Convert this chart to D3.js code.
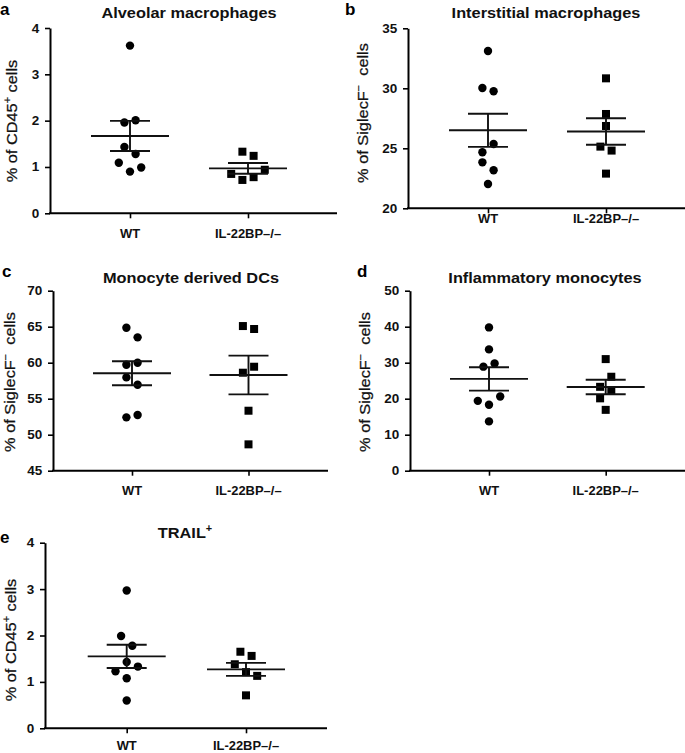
<!DOCTYPE html>
<html>
<head>
<meta charset="utf-8">
<script src="https://cdn.jsdelivr.net/npm/d3@7"></script>
<style>
  html, body { margin: 0; padding: 0; background: #fff; }
  svg { display: block; }
</style>
</head>
<body>
<svg id="chart" width="685" height="753"></svg>
<script>
// ---------------- DATA ----------------
const groups = ["WT", "IL-22BP\u2013/\u2013"];

// a: Alveolar macrophages (% of CD45+ cells)
const aWT = [3.62, 1.96, 2.01, 1.43, 1.28, 1.09, 0.90, 0.99];
const aKO = [1.33, 1.24, 0.85, 0.72, 0.78, 0.94];
const aMean = [1.67, 0.97];
const aSEM = [0.325, 0.115];
const aTicks = [0, 1, 2, 3, 4];

// b: Interstitial macrophages (% of SiglecF- cells)
const bWT = [33.11, 30.03, 29.75, 24.67, 25.36, 23.83, 23.17, 22.03];
const bKO = [30.83, 27.86, 26.86, 25.14, 24.81, 22.89];
const bMean = [26.5, 26.4];
const bSEM = [1.38, 1.11];
const bTicks = [20, 25, 30, 35];

// c: Monocyte derived DCs (% of SiglecF- cells)
const cWT = [64.86, 63.52, 59.72, 60.0, 57.96, 56.94, 52.41, 52.73];
const cKO = [65.09, 64.68, 58.61, 59.44, 53.33, 48.66];
const cMean = [58.53, 58.29];
const cSEM = [1.67, 2.69];
const cTicks = [45, 50, 55, 60, 65, 70];

// d: Inflammatory monocytes (% of SiglecF- cells)
const dWT = [39.8, 33.7, 28.9, 29.8, 19.4, 18.3, 20.6, 13.7];
const dKO = [31.0, 23.3, 26.1, 20.1, 22.2, 16.9];
const dMean = [25.5, 23.25];
const dSEM = [3.25, 2.0];
const dTicks = [0, 10, 20, 30, 40, 50];

// e: TRAIL+ (% of CD45+ cells)
const eWT = [2.97, 1.99, 1.78, 1.23, 1.43, 1.33, 1.08, 0.60];
const eKO = [1.65, 1.56, 1.38, 1.21, 1.13, 0.71];
const eMean = [1.55, 1.27];
const eSEM = [0.25, 0.14];
const eTicks = [0, 1, 2, 3, 4];

const titles = ["Alveolar macrophages", "Interstitial macrophages", "Monocyte derived DCs", "Inflammatory monocytes", "TRAIL"];
const letters = ["a", "b", "c", "d", "e"];

// ---------------- LAYOUT ----------------
const FONT = "'Liberation Sans', Arial, Helvetica, sans-serif";
const layout = [
  { wt: aWT, ko: aKO, mean: aMean, sem: aSEM, ticks: aTicks, ylab: "cd45",
    left: 50, right: 337, top: 28, bottom: 213.3, xWT: 130, xKO: 248,
    titleX: 189, titleY: 18, letterX: 0, letterY: 14.5, xLabY: 238, yLabX: 17, yLabY: 121 },
  { wt: bWT, ko: bKO, mean: bMean, sem: bSEM, ticks: bTicks, ylab: "siglec",
    left: 408, right: 685, top: 28.3, bottom: 208.3, xWT: 488, xKO: 606,
    titleX: 546, titleY: 18, letterX: 345, letterY: 14.5, xLabY: 223, yLabX: 368, yLabY: 113 },
  { wt: cWT, ko: cKO, mean: cMean, sem: cSEM, ticks: cTicks, ylab: "siglec",
    left: 53, right: 328, top: 290.7, bottom: 470.7, xWT: 132, xKO: 248.5,
    titleX: 191, titleY: 283, letterX: 2, letterY: 277, xLabY: 495, yLabX: 15, yLabY: 382 },
  { wt: dWT, ko: dKO, mean: dMean, sem: dSEM, ticks: dTicks, ylab: "siglec",
    left: 410, right: 685, top: 290.7, bottom: 470.7, xWT: 489, xKO: 605.7,
    titleX: 545, titleY: 283, letterX: 357, letterY: 277, xLabY: 495, yLabX: 370, yLabY: 382 },
  { wt: eWT, ko: eKO, mean: eMean, sem: eSEM, ticks: eTicks, ylab: "cd45",
    left: 45, right: 327, top: 542.7, bottom: 728.3, xWT: 126.7, xKO: 246,
    titleX: 185, titleY: 538, letterX: 0, letterY: 543, xLabY: 749.5, yLabX: 16, yLabY: 640, titleSup: true }
];

const svg = d3.select("#chart");
const ROW_GAP = 11.8, SLOT = 11.2, R = 4.2, SQ = 8;
const MEAN_HW = 39, CAP_HW = 20, LW = 1.9;

function swarm(values, y) {
  const order = values.map((v, i) => i).sort((p, q) => values[q] - values[p]);
  const rows = [];
  order.forEach(i => {
    const row = rows[rows.length - 1];
    if (row && y(values[i]) - y(values[row[0]]) < ROW_GAP) row.push(i);
    else rows.push([i]);
  });
  const off = new Array(values.length).fill(0);
  rows.forEach(row => {
    const r = row.slice().sort((p, q) => p - q);
    r.forEach((i, k) => { off[i] = (k - (r.length - 1) / 2) * SLOT; });
  });
  return off;
}

layout.forEach((p, pi) => {
  const g = svg.append("g");
  const y = d3.scaleLinear().domain(d3.extent(p.ticks)).range([p.bottom, p.top]);
  const x = d3.scalePoint().domain(groups).range([p.xWT, p.xKO]);

  // y axis
  const ya = g.append("g").attr("transform", `translate(${p.left},0)`)
    .call(d3.axisLeft(y).tickValues(p.ticks).tickSize(5).tickSizeOuter(0).tickPadding(5).tickFormat(d3.format("d")));
  ya.select(".domain").attr("stroke", "#000").attr("stroke-width", 2);
  ya.selectAll(".tick line").attr("stroke", "#000").attr("stroke-width", 1.6);
  ya.selectAll(".tick text")
    .attr("font-family", FONT).attr("font-weight", "bold").attr("font-size", 12.5)
    .attr("fill", "#111").attr("transform", "scale(1.08,1)");

  // x axis
  g.append("line").attr("x1", p.left - 1).attr("x2", p.right)
    .attr("y1", p.bottom).attr("y2", p.bottom).attr("stroke", "#000").attr("stroke-width", 2);
  const xa = g.append("g").attr("transform", `translate(0,${p.bottom})`)
    .call(d3.axisBottom(x).tickSize(5).tickSizeOuter(0).tickFormat(""));
  xa.select(".domain").remove();
  xa.selectAll(".tick line").attr("stroke", "#000").attr("stroke-width", 1.6);
  groups.forEach(gr => {
    g.append("text").attr("transform", `translate(${x(gr)},${p.xLabY}) scale(1.08,1)`)
      .attr("text-anchor", "middle").attr("font-family", FONT).attr("font-weight", "bold")
      .attr("font-size", 12).attr("fill", "#111").text(gr);
  });

  // points
  const wtOff = swarm(p.wt, y), koOff = swarm(p.ko, y);
  g.selectAll("circle.pt").data(p.wt).enter().append("circle")
    .attr("cx", (d, i) => x(groups[0]) + wtOff[i]).attr("cy", d => y(d))
    .attr("r", R).attr("fill", "#000");
  g.selectAll("rect.pt").data(p.ko).enter().append("rect")
    .attr("x", (d, i) => x(groups[1]) + koOff[i] - SQ / 2).attr("y", d => y(d) - SQ / 2)
    .attr("width", SQ).attr("height", SQ).attr("fill", "#000");

  // mean ± SEM
  groups.forEach((gr, k) => {
    const cx = x(gr), m = p.mean[k], s = p.sem[k];
    const st = sel => sel.attr("stroke", "#111").attr("stroke-width", LW).attr("fill", "none");
    st(g.append("line").attr("x1", cx - MEAN_HW).attr("x2", cx + MEAN_HW).attr("y1", y(m)).attr("y2", y(m)));
    st(g.append("line").attr("x1", cx - CAP_HW).attr("x2", cx + CAP_HW).attr("y1", y(m + s)).attr("y2", y(m + s)));
    st(g.append("line").attr("x1", cx - CAP_HW).attr("x2", cx + CAP_HW).attr("y1", y(m - s)).attr("y2", y(m - s)));
    st(g.append("line").attr("x1", cx).attr("x2", cx).attr("y1", y(m + s)).attr("y2", y(m - s)));
  });

  // title
  const t = g.append("text").attr("transform", `translate(${p.titleX},${p.titleY}) scale(1.09,1)`)
    .attr("text-anchor", "middle").attr("font-family", FONT).attr("font-weight", "bold")
    .attr("font-size", 15).attr("fill", "#111");
  t.append("tspan").text(titles[pi]);
  if (p.titleSup) t.append("tspan").attr("dy", -6).attr("font-size", 10).text("+");

  // panel letter
  g.append("text").attr("x", p.letterX).attr("y", p.letterY)
    .attr("font-family", FONT).attr("font-weight", "bold").attr("font-size", 17)
    .attr("fill", "#000").text(letters[pi]);

  // y label
  const yl = g.append("text")
    .attr("transform", `translate(${p.yLabX},${p.yLabY}) rotate(-90) scale(1.09,1)`)
    .attr("text-anchor", "middle").attr("font-family", FONT).attr("font-size", 15)
    .attr("fill", "#111").attr("stroke", "#111").attr("stroke-width", 0.25);
  if (p.ylab === "cd45") {
    yl.append("tspan").text("% of CD45");
    yl.append("tspan").attr("dy", -6).attr("font-size", 10).text("+");
    yl.append("tspan").attr("dy", 6).text(" cells");
  } else {
    yl.append("tspan").text("% of SiglecF");
    yl.append("tspan").attr("dy", -6).attr("font-size", 10).text("\u2212");
    yl.append("tspan").attr("dy", 6).text("\u00a0 cells");
  }
});
</script>
</body>
</html>
